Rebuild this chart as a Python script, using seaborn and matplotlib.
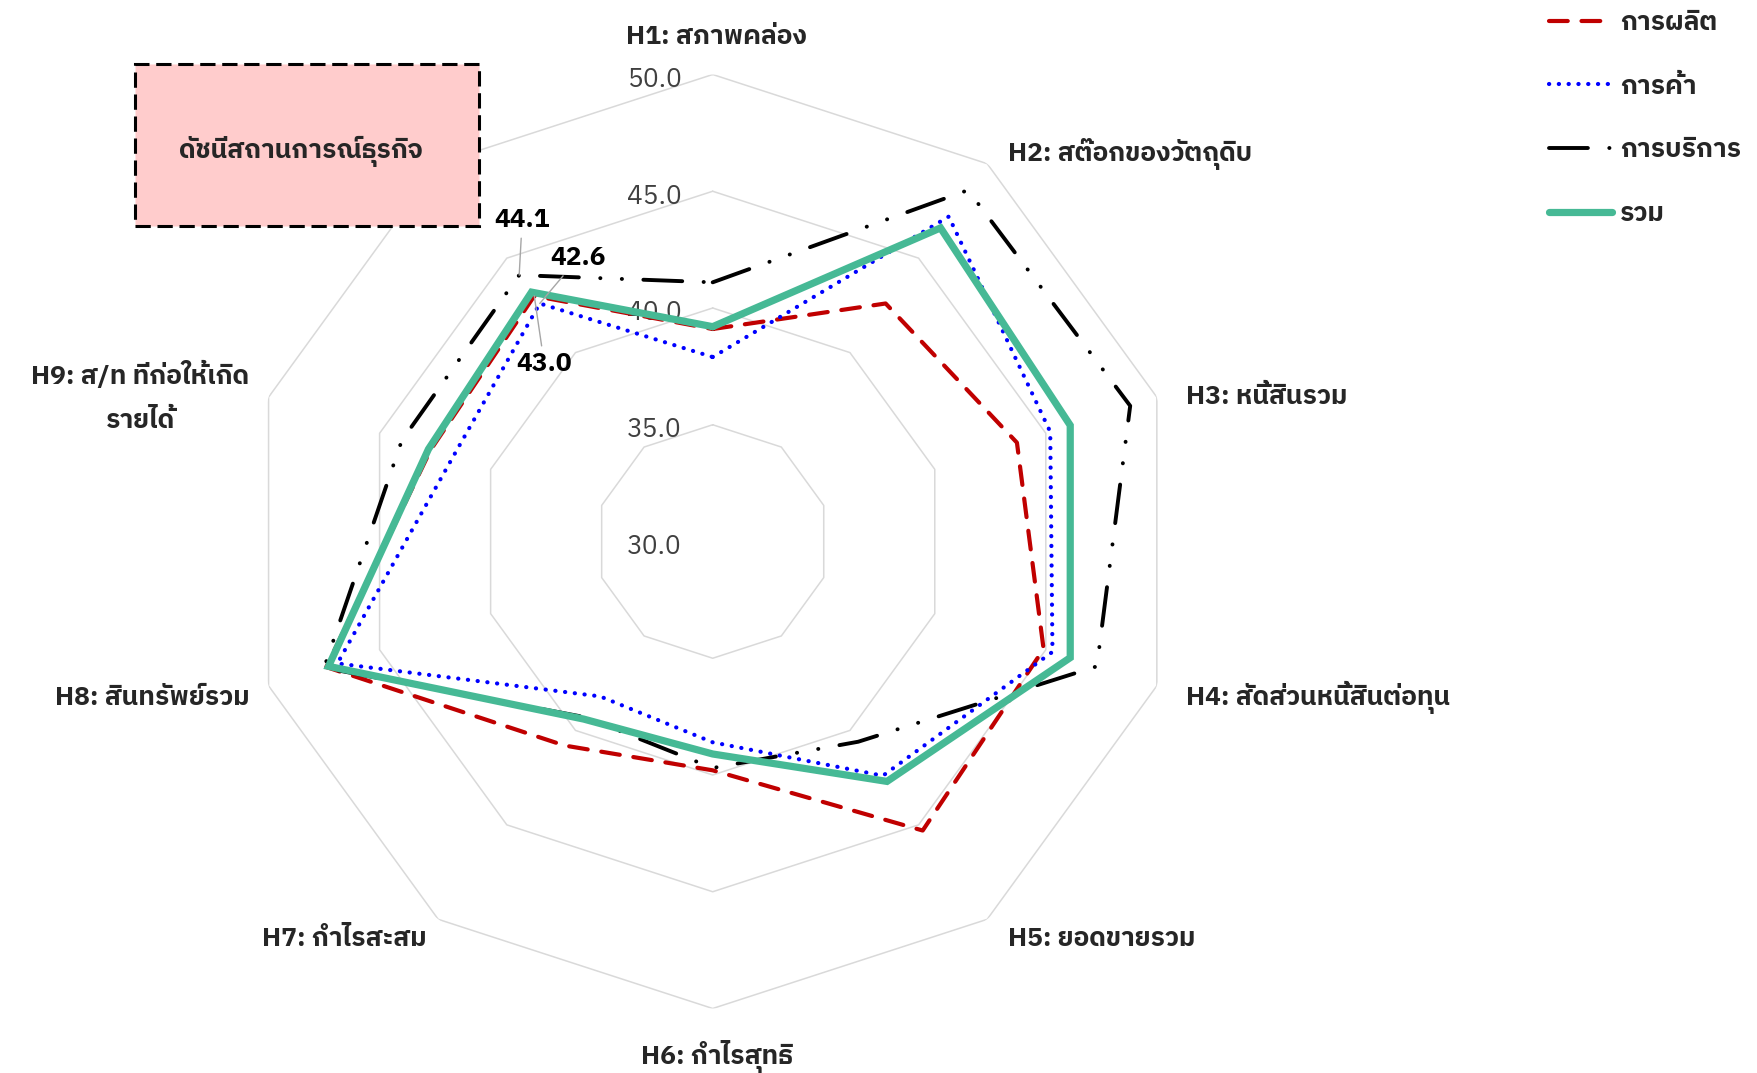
import numpy as np
import pandas as pd
import matplotlib
matplotlib.use("Agg")
import matplotlib.pyplot as plt
import matplotlib.font_manager as fm
from matplotlib.ft2font import FT2Font
from matplotlib.patches import Rectangle
import seaborn as sns

# ---- data ----
categories = ['H1: สภาพคล่อง', 'H2: สต๊อกของวัตถุดิบ', 'H3: หนี้สินรวม',
              'H4: สัดส่วนหนี้สินต่อทุน', 'H5: ยอดขายรวม', 'H6: กำไรสุทธิ',
              'H7: กำไรสะสม', 'H8: สินทรัพย์รวม', 'H9: ส/ท ที่ก่อให้เกิด\nรายได้',
              'ดัชนีสถานการณ์ธุรกิจ']
manufacturing = [39.1, 42.6, 43.7, 44.9, 45.3, 39.8, 40.8, 47.4, 42.7, 43.0]
trade = [37.9, 47.2, 45.2, 45.3, 42.4, 38.6, 38.2, 46.9, 41.7, 42.6]
services = [41.1, 48.6, 48.8, 47.3, 40.6, 39.7, 39.3, 47.5, 44.0, 44.1]
total = [39.2, 46.6, 46.1, 46.1, 42.7, 39.1, 39.4, 47.3, 42.8, 43.2]
series_names = ['การผลิต', 'การค้า', 'การบริการ', 'รวม']
r_ticks = [30, 35, 40, 45, 50]

# ---- pick a font that has Thai glyphs (bold needed) ----
thai_fonts = set()
for f in fm.fontManager.ttflist:
    try:
        if 0x0E01 in FT2Font(f.fname).get_charmap():
            thai_fonts.add(f.name)
    except Exception:
        pass
thai = 'DejaVu Sans'
for cand in ['IBM Plex Sans Thai', 'Noto Sans Thai'] + sorted(thai_fonts):
    if cand in thai_fonts:
        thai = cand
        break

sns.set_theme(style='white')
plt.rcParams['font.family'] = [thai, 'Noto Sans', 'DejaVu Sans']

W, H = 1757, 1073
fig = plt.figure(figsize=(W / 100, H / 100), dpi=100)

# polar area: centre (713, 541.5), radius 467 px
cx, cy, R = 712.7, 541.5, 467
ax = fig.add_axes([(cx - R) / W, (H - cy - R) / H, 2 * R / W, 2 * R / H], projection='polar')
ax.set_theta_zero_location('N')
ax.set_theta_direction(-1)
ax.set_ylim(30, 50)
ax.grid(False)
ax.spines['polar'].set_visible(False)
ax.set_xticks([])
ax.set_yticks([])
ax.set_facecolor('none')

n = len(categories)
theta = np.arange(n) * 2 * np.pi / n
theta_c = np.append(theta, 2 * np.pi)

# decagon grid
for v in r_ticks[1:]:
    ax.plot(theta_c, [v] * (n + 1), color='#D9D9D9', lw=1.1, zorder=1)

# radial value labels
for v in r_ticks:
    ax.annotate(f'{v:.1f}', xy=(0, v), xytext=(-31, -5), textcoords='offset pixels',
                ha='right', va='center', fontsize=19, color='#404040', zorder=2)

styles = [
    dict(color='#C00000', lw=3.0, linestyle=(0, (4.5, 3.3)), dash_capstyle='round'),
    dict(color='#0000FF', lw=3.0, linestyle=(0, (0.05, 2.3)), dash_capstyle='round'),
    dict(color='#000000', lw=2.8, linestyle=(0, (10, 5.5, 0.05, 5.5, 0.05, 5.5)), dash_capstyle='round'),
    dict(color='#46B995', lw=5.2, linestyle='-', solid_joinstyle='miter'),
]
all_vals = [manufacturing, trade, services, total]
handles = []
for name, vals, st in zip(series_names, all_vals, styles):
    df = pd.DataFrame({'theta': theta_c, 'value': list(vals) + [vals[0]]})
    sns.lineplot(data=df, x='theta', y='value', ax=ax, sort=False, estimator=None,
                 legend=False, zorder=3, **st)
    handles.append(ax.lines[-1])
ax.set_xlabel('')
ax.set_ylabel('')

# category labels
label_pos = [(4, 38, 'center', 'center'), (21, 10, 'left', 'center'), (29, 0, 'left', 'center'),
             (29, -12, 'left', 'center'), (21, -20, 'left', 'center'), (4, -48, 'center', 'center'),
             (-12, -20, 'right', 'center'), (-19, -12, 'right', 'center'), (-19, 0, 'right', 'center')]
for i, (dx, dy, ha, va) in enumerate(label_pos):
    ax.annotate(categories[i], xy=(theta[i], 50), xytext=(dx, dy), textcoords='offset pixels',
                ha=ha, va=va, multialignment='center', linespacing=2.05, fontsize=19,
                fontweight='bold', color='#262626', annotation_clip=False)

# box label for the last axis
fig.patches.append(Rectangle((134.5 / W, 1 - 226 / H), 345 / W, 162 / H, transform=fig.transFigure,
                             facecolor='#FFCCCC', edgecolor='black', lw=2.2,
                             linestyle=(0, (5, 2.2)), zorder=0))
fig.text(301 / W, 1 - 151 / H, categories[9], ha='center', va='center', fontsize=19,
         fontweight='bold', color='#262626', zorder=0.5)

# data labels on the last axis
k = n - 1
for vals, off in [(services, (3, 55)), (trade, (38, 45)), (manufacturing, (10, -68))]:
    ax.annotate(f'{vals[k]:.1f}', xy=(theta[k], vals[k]), xytext=off, textcoords='offset pixels',
                ha='center', va='center', fontsize=19, fontweight='bold', color='black',
                arrowprops=dict(arrowstyle='-', color='#A6A6A6', lw=1, shrinkA=2, shrinkB=0),
                zorder=5)

leg = fig.legend(handles, series_names, loc='upper left', bbox_to_anchor=(1549 / W, 1 - 11 / H),
                 frameon=False, fontsize=19, handlelength=2.4, handletextpad=0.3,
                 labelspacing=1.5, borderpad=0, borderaxespad=0)
for t in leg.get_texts():
    t.set_fontweight('bold')

fig.savefig('out.png', dpi=100)
